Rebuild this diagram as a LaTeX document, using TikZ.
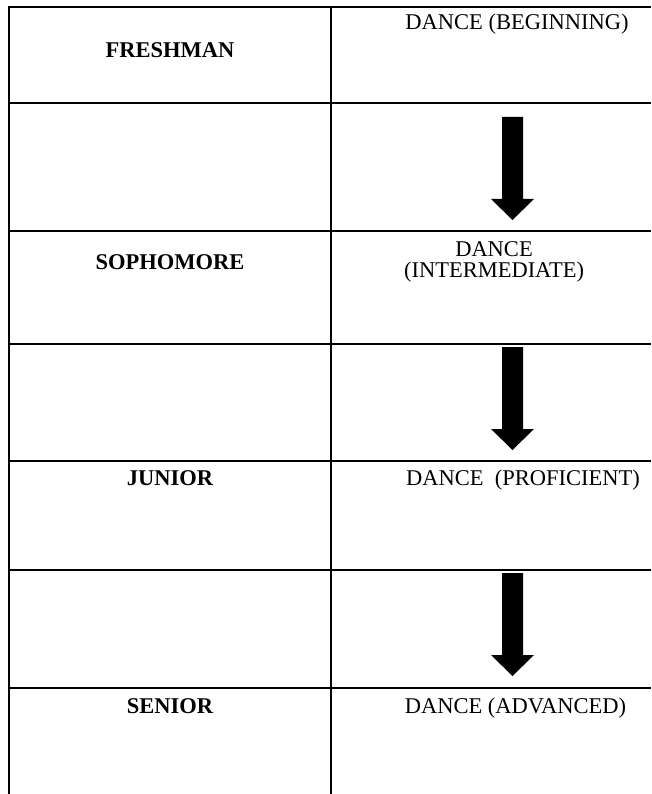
\documentclass[tikz,border=0pt]{standalone}
\usepackage{fontspec}
\setmainfont{Liberation Serif}
\tikzset{
  gridline/.style={line width=2.7pt, black},
  yeartext/.style={font=\fontsize{22.5}{26}\selectfont\bfseries, inner sep=0pt, anchor=base},
  leveltext/.style={font=\fontsize{22.5}{26}\selectfont, inner sep=0pt, anchor=base},
  pics/downarrow/.style={code={
    \fill[black] (-10.5,0) -- (10.5,0) -- (10.5,82) -- (21.5,82) -- (0,103)
      -- (-21.5,82) -- (-10.5,82) -- cycle;}},
}
\begin{document}
\begin{tikzpicture}[x=1pt,y=-1pt]
\useasboundingbox (0,0) rectangle (651,794);
% table grid
\draw[gridline] (651,7) -- (9,7) -- (9,794);
\draw[gridline] (331,7) -- (331,794);
\foreach \y in {103,231,344,461,570,688} \draw[gridline] (9,\y) -- (651,\y);
% left column
\node[yeartext] (fresh) at (170,58) {FRESHMAN};
\node[yeartext] (soph) at (170,269.5) {SOPHOMORE};
\node[yeartext] (junior) at (170,485) {JUNIOR};
\node[yeartext] (senior) at (170,713) {SENIOR};
% right column
\node[leveltext] (beg) at (517,30) {DANCE (BEGINNING)};
\node[leveltext] (intA) at (494,256.5) {DANCE};
\node[leveltext] (intB) at (494,277) {(INTERMEDIATE)};
\node[leveltext] (prof) at (523,485) {DANCE\ \ (PROFICIENT)};
\node[leveltext] (adv) at (515.5,713) {DANCE (ADVANCED)};
% arrows
\pic (arrA) at (512.5,117) {downarrow};
\pic (arrB) at (512.5,347) {downarrow};
\pic (arrC) at (512.5,573) {downarrow};
\end{tikzpicture}
\end{document}
